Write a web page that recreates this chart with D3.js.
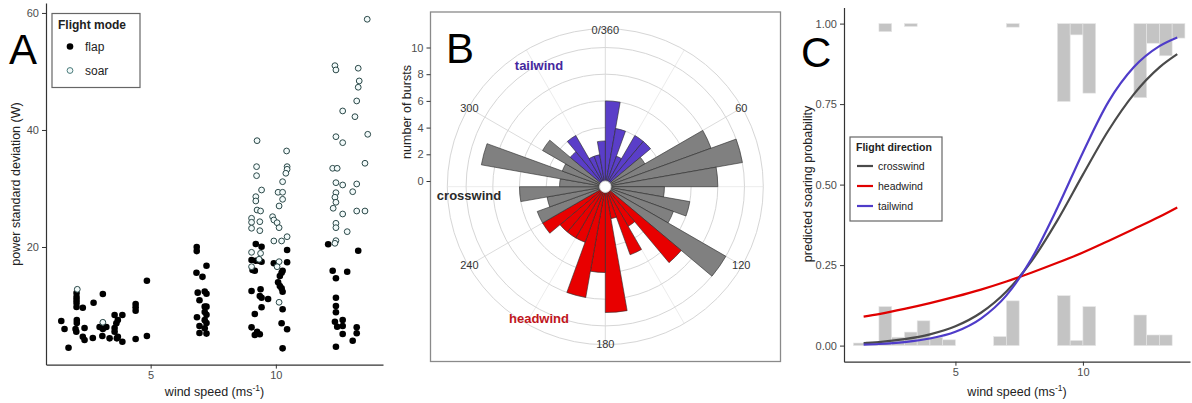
<!DOCTYPE html>
<html>
<head>
<meta charset="utf-8">
<script src="https://cdn.jsdelivr.net/npm/d3@7"></script>
<style>
body { margin: 0; background: #fff; }
text { font-family: "Liberation Sans", Arial, Helvetica, sans-serif; }
</style>
</head>
<body>
<svg id="chart" width="1192" height="403"></svg>
<script>
'use strict';
// ---------- data: panel A (wind speed, power sd) ----------
var flapPoints = [
    [1.43,7.35],[1.56,5.98],[1.72,2.79],[2.04,12.14],[2.04,11.45],[2.04,10.94],[2.04,10.43],[2.04,9.74],
    [2.29,9.62],[2.05,7.52],[2.05,7.01],[2.00,5.98],[2.03,5.52],[2.36,6.15],[2.29,4.67],[2.36,4.10],
    [2.72,10.48],[2.69,4.44],[3.09,11.97],[2.96,6.32],[3.09,6.0],[3.23,6.32],[3.07,4.79],[3.36,4.39],
    [3.56,8.38],[3.87,8.38],[3.69,7.52],[3.63,6.96],[3.56,6.15],[3.56,5.52],[3.69,4.67],[3.65,4.39],
    [3.87,3.81],[4.40,10.26],[4.40,9.69],[4.40,9.11],[4.40,4.27],[4.85,14.24],[4.85,4.79],
    [6.84,20.0],[6.84,19.3],[6.83,15.6],[7.23,16.8],[7.07,14.9],[7.16,12.4],[7.23,12.0],[6.88,12.2],
    [6.95,10.9],[7.16,9.8],[7.23,9.8],[7.16,8.9],[7.23,8.4],[6.85,8.0],[7.16,7.5],[7.23,7.0],
    [6.95,6.5],[7.16,6.1],[7.23,5.2],[6.95,5.3],
    [9.20,20.5],[9.43,20.05],[9.03,17.78],[9.20,17.66],[9.36,17.61],[9.43,17.49],[9.07,16.07],[9.16,15.95],
    [9.03,12.48],[9.39,12.77],[9.36,11.62],[9.43,11.33],[9.69,11.11],[9.16,8.55],[9.43,9.69],[9.03,6.27],
    [9.25,5.52],[9.36,5.08],[9.16,4.96],
    [10.45,19.49],[9.92,17.21],[10.45,17.38],[10.27,15.95],[10.16,15.04],[10.23,15.6],[10.09,13.97],
    [10.16,13.33],[10.23,12.94],[10.27,12.36],[10.27,9.35],[10.23,6.96],[10.45,5.93],[10.27,2.68],
    [12.09,20.46],[12.27,15.95],[12.40,14.65],[12.85,15.78],[12.40,11.33],[12.40,9.91],[12.40,8.84],
    [12.36,7.23],[12.45,6.38],[12.67,7.52],[12.67,6.50],[12.67,5.13],[12.40,2.96],
    [13.29,19.37],[13.23,6.27],[13.23,5.25],[13.07,3.98]
];
var soarPoints = [
    [2.07,12.77],[3.09,7.13],
    [9.25,38.17],[9.23,33.73],[9.23,32.19],[9.43,29.74],[9.20,28.60],[9.20,27.86],[9.25,26.32],[9.39,26.15],
    [9.03,24.91],[9.03,24.22],[9.03,23.20],[9.36,24.32],[9.36,22.79],[9.03,19.09],[9.39,18.92],[9.33,17.90],
    [9.03,16.63],
    [10.43,36.41],[10.45,33.73],[10.45,33.28],[10.40,32.60],[10.27,31.16],[10.09,29.35],[10.27,29.35],
    [10.27,28.15],[10.13,27.01],[9.87,25.18],[9.92,24.62],[10.05,24.15],[10.13,23.30],[9.92,21.03],
    [10.23,21.03],[10.45,21.76],[10.13,17.49],[10.05,16.63],[10.13,10.55],
    [12.36,50.99],[12.40,50.26],[12.67,43.25],[12.40,38.85],[12.67,37.83],[12.27,33.45],[12.45,33.45],
    [12.40,30.99],[12.67,30.60],[12.40,29.28],[12.36,28.50],[12.40,27.64],[12.29,26.62],[12.67,25.64],
    [12.40,24.05],[12.40,23.30],[12.85,22.62],[12.40,21.08],[12.36,20.63],
    [13.65,58.92],[13.29,50.55],[13.33,48.38],[13.29,47.30],[13.23,44.96],[13.16,42.27],[13.67,39.26],
    [13.56,34.31],[13.23,30.77],[13.07,29.45],[13.23,26.15],[13.56,26.15]
];
var ticksAx = [5, 10];
var ticksAy = [20, 40, 60];

// ---------- data: panel B (10 degree bins) ----------
var roseAngles = [0,10,20,30,40,50,60,70,80,90,100,110,120,130,140,150,160,170,
                  180,190,200,210,220,230,240,250,260,270,280,290,300,310,320,330,340,350];
var roseCounts = [6,4,2,4,4,3,8,10,8,4,6,5,10,7,3,5,2,9,
                  6,8,4,4,4,5,5,4,6,3,9,3,5,3,4,2,2,3];
var roseGroups = ['t','t','t','t','t','c','c','c','c','c','c','c','c','h','h','h','h','h',
                  'h','h','h','h','h','h','c','c','c','c','c','c','c','t','t','t','t','t'];
var roseTickLabels = ['0/360', '60', '120', '180', '240', '300'];
var roseTickAngles = [0, 60, 120, 180, 240, 300];
var burstTicks = [0, 2, 4, 6, 8, 10];

// ---------- data: panel C ----------
var curveX = [1.4, 2, 3, 4, 5, 6, 7, 8, 9, 10, 11, 12, 13, 13.7];
var crosswindP = [0.008,0.011,0.020,0.035,0.060,0.102,0.168,0.264,0.389,0.531,0.668,0.781,0.864,0.905];
var headwindP  = [0.090,0.098,0.114,0.132,0.152,0.174,0.199,0.227,0.257,0.289,0.325,0.362,0.400,0.429];
var tailwindP  = [0.003,0.005,0.011,0.022,0.043,0.084,0.156,0.272,0.428,0.600,0.757,0.865,0.930,0.957];
var histWidth = 0.5;
var histBottomBins = [1, 1.5, 2, 2.5, 3, 3.5, 4, 4.5, 6.5, 7, 9, 9.5, 10, 12, 12.5, 13];
var histBottomH    = [0.008,0.012,0.121,0.026,0.042,0.077,0.026,0.018,0.028,0.139,0.155,0.016,0.121,0.095,0.033,0.033];
var histTopBins = [2, 3, 7, 9, 9.5, 10, 12, 12.5, 13, 13.5];
var histTopH    = [0.025,0.009,0.011,0.242,0.035,0.216,0.230,0.061,0.100,0.045];
var ticksCx = [5, 10];
var ticksCy = [0, 0.25, 0.5, 0.75, 1];

var svg = d3.select('#chart');

function styleAxis(g) {
    g.selectAll('.domain').attr('stroke', '#333').attr('stroke-width', 1.2);
    g.selectAll('.tick line').attr('stroke', '#333').attr('stroke-width', 1);
    g.selectAll('.tick text').attr('fill', '#4d4d4d').style('font-size', '11px')
        .style('font-family', '"Liberation Sans", Arial, sans-serif');
}
function xTitle(x, y) {
    var t = svg.append('text').attr('x', x).attr('y', y).attr('text-anchor', 'middle')
        .style('font-size', '12.5px').attr('fill', '#222');
    t.append('tspan').text('wind speed (ms');
    t.append('tspan').attr('dy', -5).style('font-size', '8.5px').text('-1');
    t.append('tspan').attr('dy', 5).text(')');
}
function yTitle(x, y, label) {
    svg.append('text').attr('transform', 'translate(' + x + ',' + y + ') rotate(-90)')
        .attr('text-anchor', 'middle').style('font-size', '12.5px').attr('fill', '#222').text(label);
}
function panelLetter(x, y, s) {
    svg.append('text').attr('x', x).attr('y', y).style('font-size', '42px').attr('fill', '#000').text(s);
}

// ================= panel A =================
var xA = d3.scaleLinear().domain([0.82, 14.28]).range([46, 383]);
var yA = d3.scaleLinear().domain([-0.1, 61.7]).range([364.6, 3]);

svg.append('g').attr('transform', 'translate(0,364.6)')
    .call(d3.axisBottom(xA).tickValues(ticksAx).tickSize(4).tickSizeOuter(0).tickPadding(3))
    .call(styleAxis);
svg.append('g').attr('transform', 'translate(46,0)')
    .call(d3.axisLeft(yA).tickValues(ticksAy).tickSize(4).tickSizeOuter(0).tickPadding(3))
    .call(styleAxis);

svg.append('g').selectAll('circle').data(flapPoints).enter().append('circle')
    .attr('cx', function (d) { return xA(d[0]); })
    .attr('cy', function (d) { return yA(d[1]); })
    .attr('r', 3.3).attr('fill', '#000');
svg.append('g').selectAll('circle').data(soarPoints).enter().append('circle')
    .attr('cx', function (d) { return xA(d[0]); })
    .attr('cy', function (d) { return yA(d[1]); })
    .attr('r', 2.9).attr('fill', '#f2fafa').attr('stroke', '#2b4848').attr('stroke-width', 1);

// legend A
var legA = svg.append('g');
legA.append('rect').attr('x', 52).attr('y', 13.5).attr('width', 88).attr('height', 74)
    .attr('fill', '#fff').attr('stroke', '#666').attr('stroke-width', 1.2);
legA.append('text').attr('x', 58).attr('y', 29).style('font-size', '12px').style('font-weight', 'bold')
    .attr('fill', '#222').text('Flight mode');
legA.append('circle').attr('cx', 70).attr('cy', 46.5).attr('r', 3.3).attr('fill', '#000');
legA.append('text').attr('x', 85).attr('y', 51).style('font-size', '12px').attr('fill', '#222').text('flap');
legA.append('circle').attr('cx', 70).attr('cy', 70.5).attr('r', 2.9)
    .attr('fill', '#f2fafa').attr('stroke', '#4a7a7a').attr('stroke-width', 1);
legA.append('text').attr('x', 85).attr('y', 75).style('font-size', '12px').attr('fill', '#222').text('soar');

yTitle(19.5, 184, 'power standard deviation (W)');
xTitle(214.5, 396);
panelLetter(9, 64, 'A');

// ================= panel B =================
var cx = 605.3, cy = 186.7, outerR = 158;
var rB = d3.scaleLinear().domain([0, 10]).range([5.7, 139.2]);
var aB = d3.scaleLinear().domain([0, 360]).range([0, 2 * Math.PI]);
var roseColor = { t: '#5a3ec8', c: '#808080', h: '#e80000' };

svg.append('rect').attr('x', 430.5).attr('y', 12).attr('width', 350).attr('height', 349.5)
    .attr('fill', '#fff').attr('stroke', '#8a8a8a').attr('stroke-width', 1.3);

var gB = svg.append('g').attr('transform', 'translate(' + cx + ',' + cy + ')');
// spokes every 30 degrees
gB.selectAll('line.spoke').data(roseAngles.filter(function (a) { return a % 30 === 0; }))
    .enter().append('line').attr('class', 'spoke')
    .attr('x1', function (a) { return rB(0) * Math.sin(aB(a)); })
    .attr('y1', function (a) { return -rB(0) * Math.cos(aB(a)); })
    .attr('x2', function (a) { return outerR * Math.sin(aB(a)); })
    .attr('y2', function (a) { return -outerR * Math.cos(aB(a)); })
    .attr('stroke', function (a) { return a % 60 === 0 ? '#dcdcdc' : '#ececec'; })
    .attr('stroke-width', 1);
gB.selectAll('circle.ring').data(burstTicks).enter().append('circle').attr('class', 'ring')
    .attr('r', function (d) { return rB(d); })
    .attr('fill', 'none').attr('stroke', '#d6d6d6').attr('stroke-width', 1);
gB.append('circle').attr('r', outerR).attr('fill', 'none').attr('stroke', '#d6d6d6').attr('stroke-width', 1);

var roseData = roseAngles.map(function (a, i) {
    return { angle: a, count: roseCounts[i], group: roseGroups[i] };
});
var arc = d3.arc()
    .innerRadius(rB(0))
    .outerRadius(function (d) { return rB(d.count); })
    .startAngle(function (d) { return aB(d.angle); })
    .endAngle(function (d) { return aB(d.angle + 10); });
gB.selectAll('path.bar').data(roseData).enter().append('path').attr('class', 'bar')
    .attr('d', arc)
    .attr('fill', function (d) { return roseColor[d.group]; })
    .attr('stroke', '#2a2a2a').attr('stroke-width', 0.6);
gB.append('circle').attr('r', rB(0)).attr('fill', '#fff').attr('stroke', '#d0d0d0').attr('stroke-width', 1);

gB.selectAll('text.ang').data(roseTickAngles).enter().append('text').attr('class', 'ang')
    .attr('x', function (a) { return 157 * Math.sin(aB(a)); })
    .attr('y', function (a) { return -157 * Math.cos(aB(a)) + 4; })
    .attr('text-anchor', 'middle').style('font-size', '11px').attr('fill', '#333')
    .text(function (a, i) { return roseTickLabels[i]; });

var yB = d3.scaleLinear().domain([0, 10]).range([cy - rB(0), cy - rB(10)]);
svg.append('g').attr('transform', 'translate(430.5,0)')
    .call(d3.axisLeft(yB).tickValues(burstTicks).tickSize(4).tickPadding(3))
    .call(styleAxis)
    .call(function (g) { g.select('.domain').remove(); });

svg.append('text').attr('x', 539).attr('y', 70).attr('text-anchor', 'middle')
    .style('font-size', '13px').style('font-weight', 'bold').attr('fill', '#45279e').text('tailwind');
svg.append('text').attr('x', 469).attr('y', 199.5).attr('text-anchor', 'middle')
    .style('font-size', '13px').style('font-weight', 'bold').attr('fill', '#2a2a2a').text('crosswind');
svg.append('text').attr('x', 539).attr('y', 323).attr('text-anchor', 'middle')
    .style('font-size', '13px').style('font-weight', 'bold').attr('fill', '#c0161c').text('headwind');

yTitle(410.5, 112, 'number of bursts');
panelLetter(446, 63, 'B');

// ================= panel C =================
var xC = d3.scaleLinear().domain([0.63, 14.2]).range([844, 1190]);
var yC = d3.scaleLinear().domain([-0.05, 1.05]).range([361.7, 7.5]);

svg.append('g').selectAll('rect').data(histBottomBins).enter().append('rect')
    .attr('x', function (b) { return xC(b); })
    .attr('width', function (b) { return xC(b + histWidth) - xC(b); })
    .attr('y', function (b, i) { return yC(histBottomH[i]); })
    .attr('height', function (b, i) { return yC(0) - yC(histBottomH[i]); })
    .attr('fill', '#c4c4c4').attr('stroke', '#e6e6e6').attr('stroke-width', 0.6);
svg.append('g').selectAll('rect').data(histTopBins).enter().append('rect')
    .attr('x', function (b) { return xC(b); })
    .attr('width', function (b) { return xC(b + histWidth) - xC(b); })
    .attr('y', yC(1))
    .attr('height', function (b, i) { return yC(1 - histTopH[i]) - yC(1); })
    .attr('fill', '#c4c4c4').attr('stroke', '#e6e6e6').attr('stroke-width', 0.6);

var lineC = d3.line()
    .x(function (d) { return xC(d[0]); })
    .y(function (d) { return yC(d[1]); })
    .curve(d3.curveMonotoneX);
var series = [
    { name: 'crosswind', color: '#4a4a4a', p: crosswindP },
    { name: 'headwind', color: '#e00000', p: headwindP },
    { name: 'tailwind', color: '#4f3cc9', p: tailwindP }
];
series.forEach(function (s) {
    svg.append('path')
        .datum(curveX.map(function (x, i) { return [x, s.p[i]]; }))
        .attr('d', lineC).attr('fill', 'none')
        .attr('stroke', s.color).attr('stroke-width', 2.2);
});

svg.append('g').attr('transform', 'translate(0,361.7)')
    .call(d3.axisBottom(xC).tickValues(ticksCx).tickSize(4).tickSizeOuter(0).tickPadding(3))
    .call(styleAxis);
svg.append('g').attr('transform', 'translate(844,0)')
    .call(d3.axisLeft(yC).tickValues(ticksCy).tickFormat(d3.format('.2f')).tickSize(4).tickSizeOuter(0).tickPadding(3))
    .call(styleAxis);

// legend C
var legC = svg.append('g');
legC.append('rect').attr('x', 850).attr('y', 137).attr('width', 92).attr('height', 84)
    .attr('fill', '#fff').attr('stroke', '#666').attr('stroke-width', 1.2);
legC.append('text').attr('x', 856).attr('y', 150.5).style('font-size', '10.5px').style('font-weight', 'bold')
    .attr('fill', '#222').text('Flight direction');
series.forEach(function (s, i) {
    var yy = 166 + i * 20;
    legC.append('line').attr('x1', 857).attr('x2', 873).attr('y1', yy).attr('y2', yy)
        .attr('stroke', s.color).attr('stroke-width', 2.2);
    legC.append('text').attr('x', 878).attr('y', yy + 3.8).style('font-size', '10.5px')
        .attr('fill', '#222').text(s.name);
});

yTitle(812, 184, 'predicted soaring probability');
xTitle(1017, 396);
panelLetter(801, 67, 'C');
</script>
</body>
</html>
